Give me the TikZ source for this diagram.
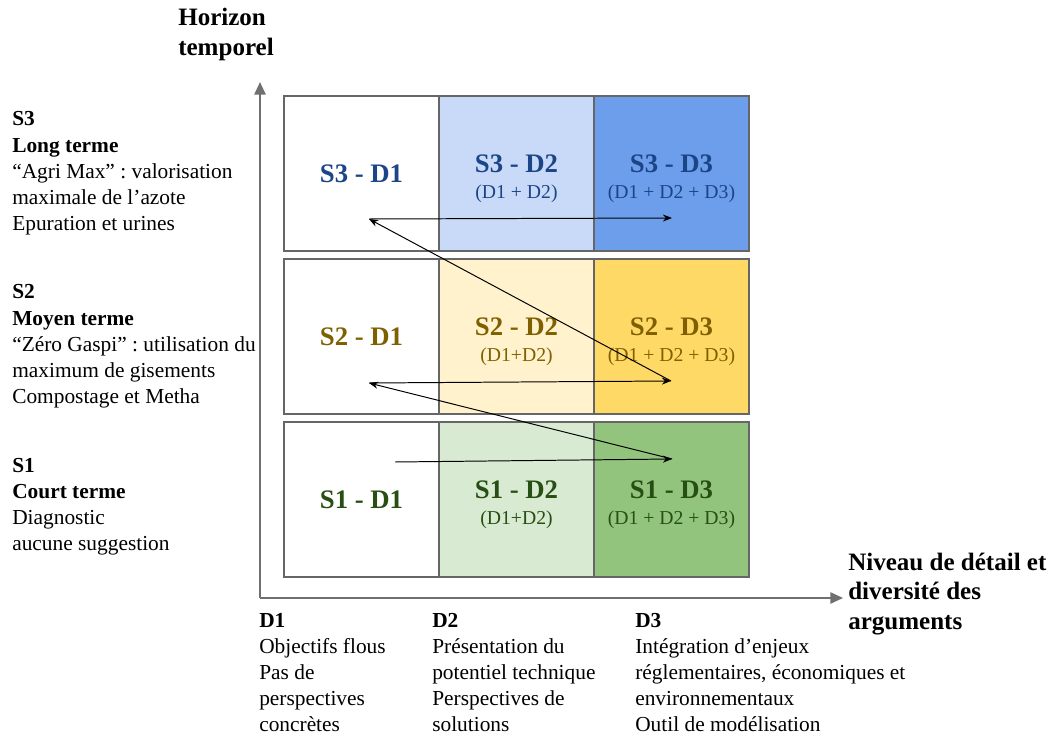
\documentclass[tikz,border=0pt]{standalone}
\usepackage{fontspec}
\setmainfont{Liberation Serif}
\usetikzlibrary{arrows.meta}

\definecolor{bordo}{HTML}{666666}
\definecolor{grigioasse}{HTML}{707070}
\definecolor{bluchiaro}{HTML}{C9DAF8}
\definecolor{blu}{HTML}{6D9EEB}
\definecolor{blutesto}{HTML}{1C4587}
\definecolor{giallochiaro}{HTML}{FFF2CC}
\definecolor{giallo}{HTML}{FFD966}
\definecolor{giallotesto}{HTML}{7F6000}
\definecolor{verdechiaro}{HTML}{D9EAD3}
\definecolor{verde}{HTML}{93C47D}
\definecolor{verdetesto}{HTML}{274E13}

\newcommand{\piccolo}{\fontsize{14}{16}\selectfont\mdseries}
\newcommand{\alto}{\rule{0pt}{20pt}}
\frenchspacing

\begin{document}
\begin{tikzpicture}[x=0.025cm,y=-0.025cm,
    every node/.style={font=\fontsize{15.2}{18.6}\selectfont},
    cella/.style={draw=bordo,line width=0.9pt,minimum width=3.875cm,minimum height=3.875cm,
        inner sep=0pt,align=center,font=\fontsize{19}{18.8}\selectfont\bfseries},
    blocco/.style={anchor=base west,inner sep=0pt,align=flush left,text width=#1},
    titolo/.style={anchor=base west,inner sep=0pt,align=flush left,text width=#1,
        font=\fontsize{17.8}{21.3}\selectfont\bfseries},
    asse/.style={draw=grigioasse,line width=1.4pt,-{Triangle[length=9pt,width=8pt]}},
    freccia/.style={line width=0.7pt,-{Stealth[length=6.5pt,width=5pt]}}]

    % Dimensioni della pagina
    \useasboundingbox (0,0) rectangle (1056,740);

    % Assi
    \coordinate (O) at (260,598);
    \coordinate (ytip) at (260,82);
    \coordinate (xtip) at (843,598);
    \draw[asse] (O) -- (ytip);
    \draw[asse] (O) -- (xtip);

    % Riga S3 (lungo termine)
    \node[cella,fill=white,text=blutesto] (s3d1) at (361.5,173.5) {S3 - D1};
    \node[cella,fill=bluchiaro,text=blutesto] (s3d2) at (516.5,173.5) {\alto S3 - D2\\{\piccolo (D1 + D2)}};
    \node[cella,fill=blu,text=blutesto] (s3d3) at (671.5,173.5) {\alto S3 - D3\\{\piccolo (D1 + D2 + D3)}};

    % Riga S2 (medio termine)
    \node[cella,fill=white,text=giallotesto] (s2d1) at (361.5,336.5) {S2 - D1};
    \node[cella,fill=giallochiaro,text=giallotesto] (s2d2) at (516.5,336.5) {\alto S2 - D2\\{\piccolo (D1+D2)}};
    \node[cella,fill=giallo,text=giallotesto] (s2d3) at (671.5,336.5) {\alto S2 - D3\\{\piccolo (D1 + D2 + D3)}};

    % Riga S1 (breve termine)
    \node[cella,fill=white,text=verdetesto] (s1d1) at (361.5,499.5) {S1 - D1};
    \node[cella,fill=verdechiaro,text=verdetesto] (s1d2) at (516.5,499.5) {\alto S1 - D2\\{\piccolo (D1+D2)}};
    \node[cella,fill=verde,text=verdetesto] (s1d3) at (671.5,499.5) {\alto S1 - D3\\{\piccolo (D1 + D2 + D3)}};

    % Percorso a zig-zag
    \coordinate (p0) at (395,462);
    \coordinate (p1) at (672,459);
    \coordinate (p2) at (369,383);
    \coordinate (p3) at (671,381);
    \coordinate (p4) at (369,219);
    \coordinate (p5) at (672,218);
    \draw[freccia] (p0) -- (p1);
    \draw[freccia] (p1) -- (p2);
    \draw[freccia] (p2) -- (p3);
    \draw[freccia] (p3) -- (p4);
    \draw[freccia] (p4) -- (p5);

    % Titoli degli assi
    \node[titolo=3cm] (horizon) at (178,26) {Horizon\\temporel};
    \node[titolo=6cm] (niveau) at (848,570) {Niveau de détail et\\diversité des\\arguments};

    % Scenari a sinistra
    \node[blocco=7cm] (s3) at (12,126) {\textbf{S3}\\\textbf{Long terme}\\“Agri Max” : valorisation\\maximale de l’azote\\Epuration et urines};
    \node[blocco=7cm] (s2) at (12,299) {\textbf{S2}\\\textbf{Moyen terme}\\“Zéro Gaspi” : utilisation du\\maximum de gisements\\Compostage et Metha};
    \node[blocco=7cm] (s1) at (12,472) {\textbf{S1}\\\textbf{Court terme}\\Diagnostic\\aucune suggestion};

    % Livelli di dettaglio in basso
    \node[blocco=4cm] (d1) at (259,627) {\textbf{D1}\\Objectifs flous\\Pas de\\perspectives\\concrètes};
    \node[blocco=5cm] (d2) at (432,627) {\textbf{D2}\\Présentation du\\potentiel technique\\Perspectives de\\solutions};
    \node[blocco=8cm] (d3) at (635,627) {\textbf{D3}\\Intégration d’enjeux\\réglementaires, économiques et\\environnementaux\\Outil de modélisation};

\end{tikzpicture}
\end{document}
